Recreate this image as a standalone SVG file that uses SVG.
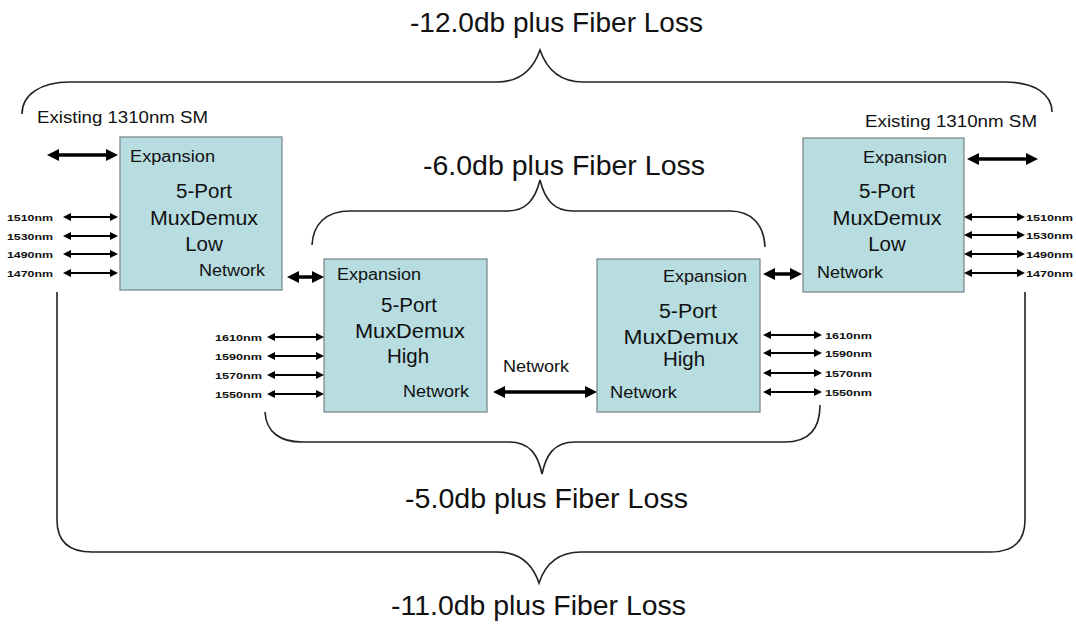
<svg xmlns="http://www.w3.org/2000/svg" width="1076" height="624" viewBox="0 0 1076 624">
<style>
text{font-family:"Liberation Sans",Arial,sans-serif;fill:#111}
.db{font-size:28px}
.lbl{font-size:16px}
.big{font-size:20.5px}
.wl{font-size:9.5px;font-weight:bold}
.box{fill:#b7dde1;stroke:#7d8a8c;stroke-width:1.3}
.brace{fill:none;stroke:#222;stroke-width:1.6}
.ta{stroke:#000;stroke-width:3.5;fill:none;marker-start:url(#hb);marker-end:url(#hb)}
.ts{stroke:#000;stroke-width:2;fill:none;marker-start:url(#hs);marker-end:url(#hs)}
</style>
<defs>
<marker id="hb" viewBox="0 0 12 12" markerWidth="12" markerHeight="12" refX="3" refY="6" orient="auto-start-reverse" markerUnits="userSpaceOnUse"><path d="M0,0 L12,6 L0,12 Z" fill="#000"/></marker>
<marker id="hs" viewBox="0 0 8 8" markerWidth="8" markerHeight="8" refX="2" refY="4" orient="auto-start-reverse" markerUnits="userSpaceOnUse"><path d="M0,0 L8,4 L0,8 Z" fill="#000"/></marker>
</defs>
<rect width="1076" height="624" fill="#fff"/>

<g id="braces">
<path class="brace" d="M22,114 C22,95 40,82 70,82 L497,82 C520,82 533,70 540,50 C547,70 560,82 583,82 L1004,82 C1036,82 1052,95 1052,112"/>
<path class="brace" d="M312,245 C313,225 325,211 350,211 L507,211 C526,211 535,200 540,180 C545,200 554,211 573,211 L730,211 C752,211 764,225 765,247"/>
<path class="brace" d="M265,412 C266,432 280,442 302,442 L509,442 C530,442 538,455 542,474 C546,455 554,442 575,442 L785,442 C808,442 820,430 820,405"/>
<path class="brace" d="M57,292 L57,520 C57,540 68,552 92,552 L497,552 C520,552 533,565 539,583 C545,565 558,552 581,552 L990,552 C1014,552 1025,540 1025,520 L1025,292"/>
</g>

<g id="labels">
<text class="db" x="410" y="32" textLength="293" lengthAdjust="spacingAndGlyphs">-12.0db plus Fiber Loss</text>
<text class="db" x="423" y="175" textLength="282" lengthAdjust="spacingAndGlyphs">-6.0db plus Fiber Loss</text>
<text class="db" x="405" y="508" textLength="283" lengthAdjust="spacingAndGlyphs">-5.0db plus Fiber Loss</text>
<text class="db" x="391" y="615" textLength="295" lengthAdjust="spacingAndGlyphs">-11.0db plus Fiber Loss</text>
<text class="lbl" x="37" y="123" textLength="171" lengthAdjust="spacingAndGlyphs">Existing 1310nm  SM</text>
<text class="lbl" x="865" y="127" textLength="172" lengthAdjust="spacingAndGlyphs">Existing 1310nm  SM</text>
<text class="lbl" x="503" y="372" textLength="66" lengthAdjust="spacingAndGlyphs">Network</text>
</g>

<g id="node-low-left">
<rect class="box" x="120" y="137" width="162" height="153"/>
<text class="lbl" x="130" y="162" textLength="85" lengthAdjust="spacingAndGlyphs">Expansion</text>
<text class="big" x="204" y="198" text-anchor="middle">5-Port</text>
<text class="big" x="204" y="225" text-anchor="middle" textLength="108" lengthAdjust="spacingAndGlyphs">MuxDemux</text>
<text class="big" x="204" y="251" text-anchor="middle">Low</text>
<text class="lbl" x="199" y="276" textLength="66" lengthAdjust="spacingAndGlyphs">Network</text>
<text class="wl" x="7" y="221" textLength="46" lengthAdjust="spacingAndGlyphs">1510nm</text>
<text class="wl" x="7" y="240" textLength="46" lengthAdjust="spacingAndGlyphs">1530nm</text>
<text class="wl" x="7" y="258" textLength="46" lengthAdjust="spacingAndGlyphs">1490nm</text>
<text class="wl" x="7" y="277" textLength="46" lengthAdjust="spacingAndGlyphs">1470nm</text>
</g>

<g id="node-high-left">
<rect class="box" x="324" y="259" width="163" height="153"/>
<text class="lbl" x="337" y="280" textLength="84" lengthAdjust="spacingAndGlyphs">Expansion</text>
<text class="big" x="409" y="312" text-anchor="middle">5-Port</text>
<text class="big" x="410" y="338" text-anchor="middle" textLength="110" lengthAdjust="spacingAndGlyphs">MuxDemux</text>
<text class="big" x="408" y="363" text-anchor="middle">High</text>
<text class="lbl" x="403" y="397" textLength="66" lengthAdjust="spacingAndGlyphs">Network</text>
<text class="wl" x="215" y="341" textLength="47" lengthAdjust="spacingAndGlyphs">1610nm</text>
<text class="wl" x="215" y="360" textLength="47" lengthAdjust="spacingAndGlyphs">1590nm</text>
<text class="wl" x="215" y="379" textLength="47" lengthAdjust="spacingAndGlyphs">1570nm</text>
<text class="wl" x="215" y="398" textLength="47" lengthAdjust="spacingAndGlyphs">1550nm</text>
</g>

<g id="node-high-right">
<rect class="box" x="597" y="259" width="163" height="153"/>
<text class="lbl" x="663" y="282" textLength="84" lengthAdjust="spacingAndGlyphs">Expansion</text>
<text class="big" x="688" y="318" text-anchor="middle" textLength="58" lengthAdjust="spacingAndGlyphs">5-Port</text>
<text class="big" x="681" y="344" text-anchor="middle" textLength="115" lengthAdjust="spacingAndGlyphs">MuxDemux</text>
<text class="big" x="684" y="366" text-anchor="middle">High</text>
<text class="lbl" x="610" y="398" textLength="67" lengthAdjust="spacingAndGlyphs">Network</text>
<text class="wl" x="825" y="339" textLength="47" lengthAdjust="spacingAndGlyphs">1610nm</text>
<text class="wl" x="825" y="357" textLength="47" lengthAdjust="spacingAndGlyphs">1590nm</text>
<text class="wl" x="825" y="377" textLength="47" lengthAdjust="spacingAndGlyphs">1570nm</text>
<text class="wl" x="825" y="396" textLength="47" lengthAdjust="spacingAndGlyphs">1550nm</text>
</g>

<g id="node-low-right">
<rect class="box" x="803" y="138" width="161" height="154"/>
<text class="lbl" x="863" y="163" textLength="84" lengthAdjust="spacingAndGlyphs">Expansion</text>
<text class="big" x="887" y="198" text-anchor="middle">5-Port</text>
<text class="big" x="887" y="225" text-anchor="middle" textLength="109" lengthAdjust="spacingAndGlyphs">MuxDemux</text>
<text class="big" x="887" y="251" text-anchor="middle">Low</text>
<text class="lbl" x="817" y="278" textLength="66" lengthAdjust="spacingAndGlyphs">Network</text>
<text class="wl" x="1026" y="221" textLength="47" lengthAdjust="spacingAndGlyphs">1510nm</text>
<text class="wl" x="1026" y="239" textLength="47" lengthAdjust="spacingAndGlyphs">1530nm</text>
<text class="wl" x="1026" y="258" textLength="47" lengthAdjust="spacingAndGlyphs">1490nm</text>
<text class="wl" x="1026" y="277" textLength="47" lengthAdjust="spacingAndGlyphs">1470nm</text>
</g>

<g id="connectors">
<line class="ta" x1="56" y1="155" x2="109" y2="155"/>
<line class="ta" x1="976" y1="159" x2="1029" y2="159"/>
<line class="ta" x1="296" y1="277" x2="315" y2="277"/>
<line class="ta" x1="772" y1="274" x2="793" y2="274"/>
<line class="ta" x1="502" y1="392" x2="588" y2="392"/>
<line class="ts" x1="69" y1="217" x2="112" y2="217"/>
<line class="ts" x1="69" y1="236" x2="112" y2="236"/>
<line class="ts" x1="69" y1="254" x2="112" y2="254"/>
<line class="ts" x1="69" y1="273" x2="112" y2="273"/>
<line class="ts" x1="273" y1="337" x2="318" y2="337"/>
<line class="ts" x1="273" y1="356" x2="318" y2="356"/>
<line class="ts" x1="273" y1="375" x2="318" y2="375"/>
<line class="ts" x1="273" y1="394" x2="318" y2="394"/>
<line class="ts" x1="769" y1="335" x2="816" y2="335"/>
<line class="ts" x1="769" y1="353" x2="816" y2="353"/>
<line class="ts" x1="769" y1="373" x2="816" y2="373"/>
<line class="ts" x1="769" y1="392" x2="816" y2="392"/>
<line class="ts" x1="970" y1="217" x2="1019" y2="217"/>
<line class="ts" x1="970" y1="235" x2="1019" y2="235"/>
<line class="ts" x1="970" y1="254" x2="1019" y2="254"/>
<line class="ts" x1="970" y1="273" x2="1019" y2="273"/>
</g>
</svg>
